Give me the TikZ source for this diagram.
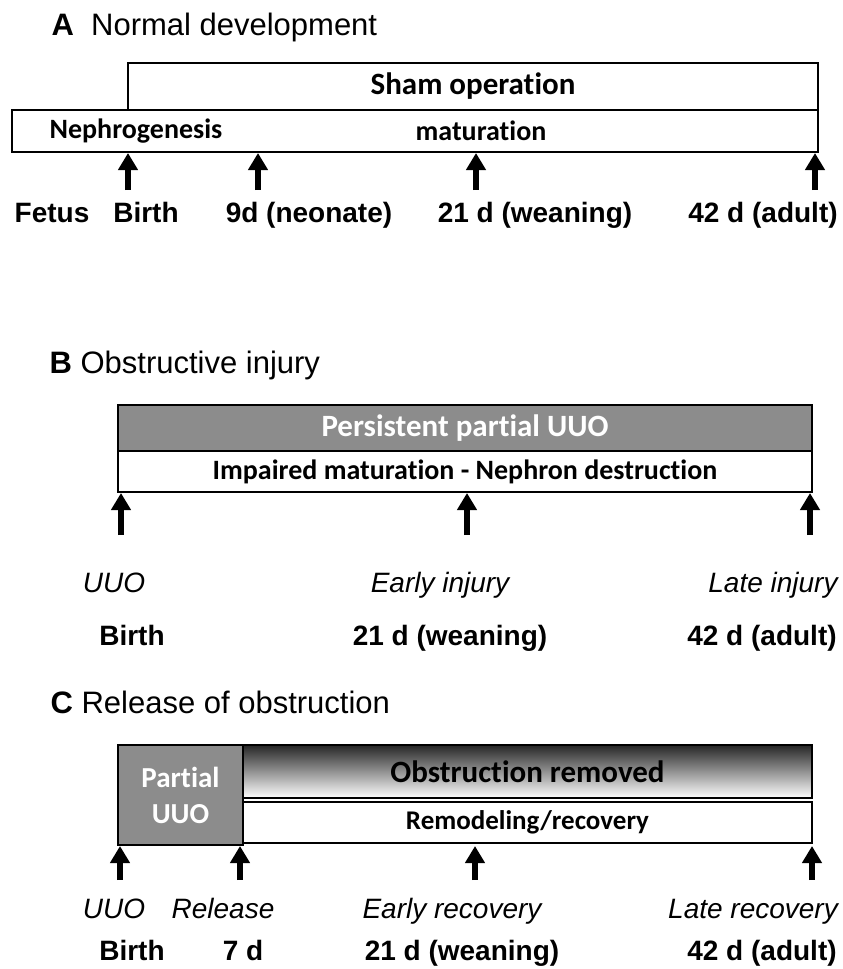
\documentclass[tikz,border=0pt]{standalone}
\usepackage{fontspec}
\setmainfont{Liberation Sans}
\newfontfamily\boxfont[Ligatures=NoCommon]{Carlito}
\usetikzlibrary{arrows.meta}

\tikzset{
  bar/.style={draw, line width=2pt, inner sep=0pt},
  tick/.style={line width=6pt, -{Triangle[width=19pt,length=17pt]}},
  boxtext/.style={font=\boxfont\bfseries\fontsize{31}{31}\selectfont},
  smallbox/.style={font=\boxfont\bfseries\fontsize{28}{28}\selectfont},
  when/.style={anchor=base, font=\bfseries\fontsize{28}{28}\selectfont},
  what/.style={anchor=base, font=\itshape\fontsize{28}{28}\selectfont},
  paneltitle/.style={anchor=base west, font=\fontsize{31}{31}\selectfont},
}

\begin{document}
\begin{tikzpicture}[x=1pt,y=-1pt]
  \useasboundingbox (0,0) rectangle (843,969);

  % A: normal development
  \node[paneltitle] (titleA) at (48,35) {\textbf{A}\ \ Normal development};
  \node[bar, minimum width=690pt, minimum height=47pt] (sham) at (473,86.5) {};
  \node[bar, minimum width=806pt, minimum height=42pt] (growA) at (415,131) {};
  \node[boxtext] (shamtxt) at (sham.center) {Sham operation};
  \node[smallbox] (nephro) at (136,131) {Nephrogenesis};
  \node[smallbox] (matur) at (481,131) {maturation};

  \foreach \x/\n in {128/birth,258/nine,476/wean,815/adult}{
    \coordinate (tA\n) at (\x,190);
    \draw[tick] (tA\n) -- (tA\n |- growA.south);
  }
  \node[when] (fetusA) at (52,222) {Fetus};
  \node[when] (birthA) at (146,222) {Birth};
  \node[when] (nineA) at (309,222) {9d (neonate)};
  \node[when] (weanA) at (535,222) {21 d (weaning)};
  \node[when] (adultA) at (763,222) {42 d (adult)};

  % B: obstructive injury
  \node[paneltitle] (titleB) at (46,373) {\textbf{B} Obstructive injury};
  \node[bar, fill=black!45, minimum width=694pt, minimum height=46pt] (uuoB) at (465,428) {};
  \node[bar, minimum width=694pt, minimum height=41pt] (harmB) at (465,471.5) {};
  \node[boxtext, white] (uuotxt) at (uuoB.center) {Persistent partial UUO};
  \node[smallbox] (harmtxt) at (harmB.center) {Impaired maturation - Nephron destruction};

  \foreach \x/\n in {121/birth,467/wean,810/adult}{
    \coordinate (tB\n) at (\x,535);
    \draw[tick] (tB\n) -- (tB\n |- harmB.south);
  }
  \node[what] (uuoevB) at (114,592) {UUO};
  \node[what] (earlyB) at (440,592) {Early injury};
  \node[what] (lateB) at (773,592) {Late injury};
  \node[when] (birthB) at (132,645) {Birth};
  \node[when] (weanB) at (450,645) {21 d (weaning)};
  \node[when] (adultB) at (762,645) {42 d (adult)};

  % C: release of obstruction
  \node[paneltitle] (titleC) at (47,713) {\textbf{C} Release of obstruction};
  \node[bar, fill=black!45, minimum width=125pt, minimum height=100pt] (uuoC) at (180.5,795) {};
  \shade[top color=black!85, bottom color=white, draw, line width=2pt] (243,745) rectangle (812,798);
  \node[inner sep=0pt, minimum width=569pt, minimum height=53pt] (removed) at (527.5,771.5) {};
  \node[bar, minimum width=569pt, minimum height=41pt] (remod) at (527.5,822.5) {};
  \node[boxtext, white, align=center, font=\boxfont\bfseries\fontsize{29}{36}\selectfont] (uuoCtxt) at (uuoC.center) {Partial\\UUO};
  \node[boxtext] (removedtxt) at (removed.center) {Obstruction removed};
  \node[smallbox, font=\boxfont\bfseries\fontsize{27}{27}\selectfont] (remodtxt) at (remod.center) {Remodeling/recovery};

  \foreach \x/\n in {120/birth,240/seven,475/wean,812/adult}{
    \coordinate (tC\n) at (\x,880);
    \draw[tick] (tC\n) -- (tC\n |- uuoC.south);
  }
  \node[what] (uuoevC) at (114,918) {UUO};
  \node[what] (releaseC) at (223,918) {Release};
  \node[what] (earlyC) at (452,918) {Early recovery};
  \node[what] (lateC) at (753,918) {Late recovery};
  \node[when] (birthC) at (132,960) {Birth};
  \node[when] (sevenC) at (243,960) {7 d};
  \node[when] (weanC) at (462,960) {21 d (weaning)};
  \node[when] (adultC) at (762,960) {42 d (adult)};
\end{tikzpicture}
\end{document}
